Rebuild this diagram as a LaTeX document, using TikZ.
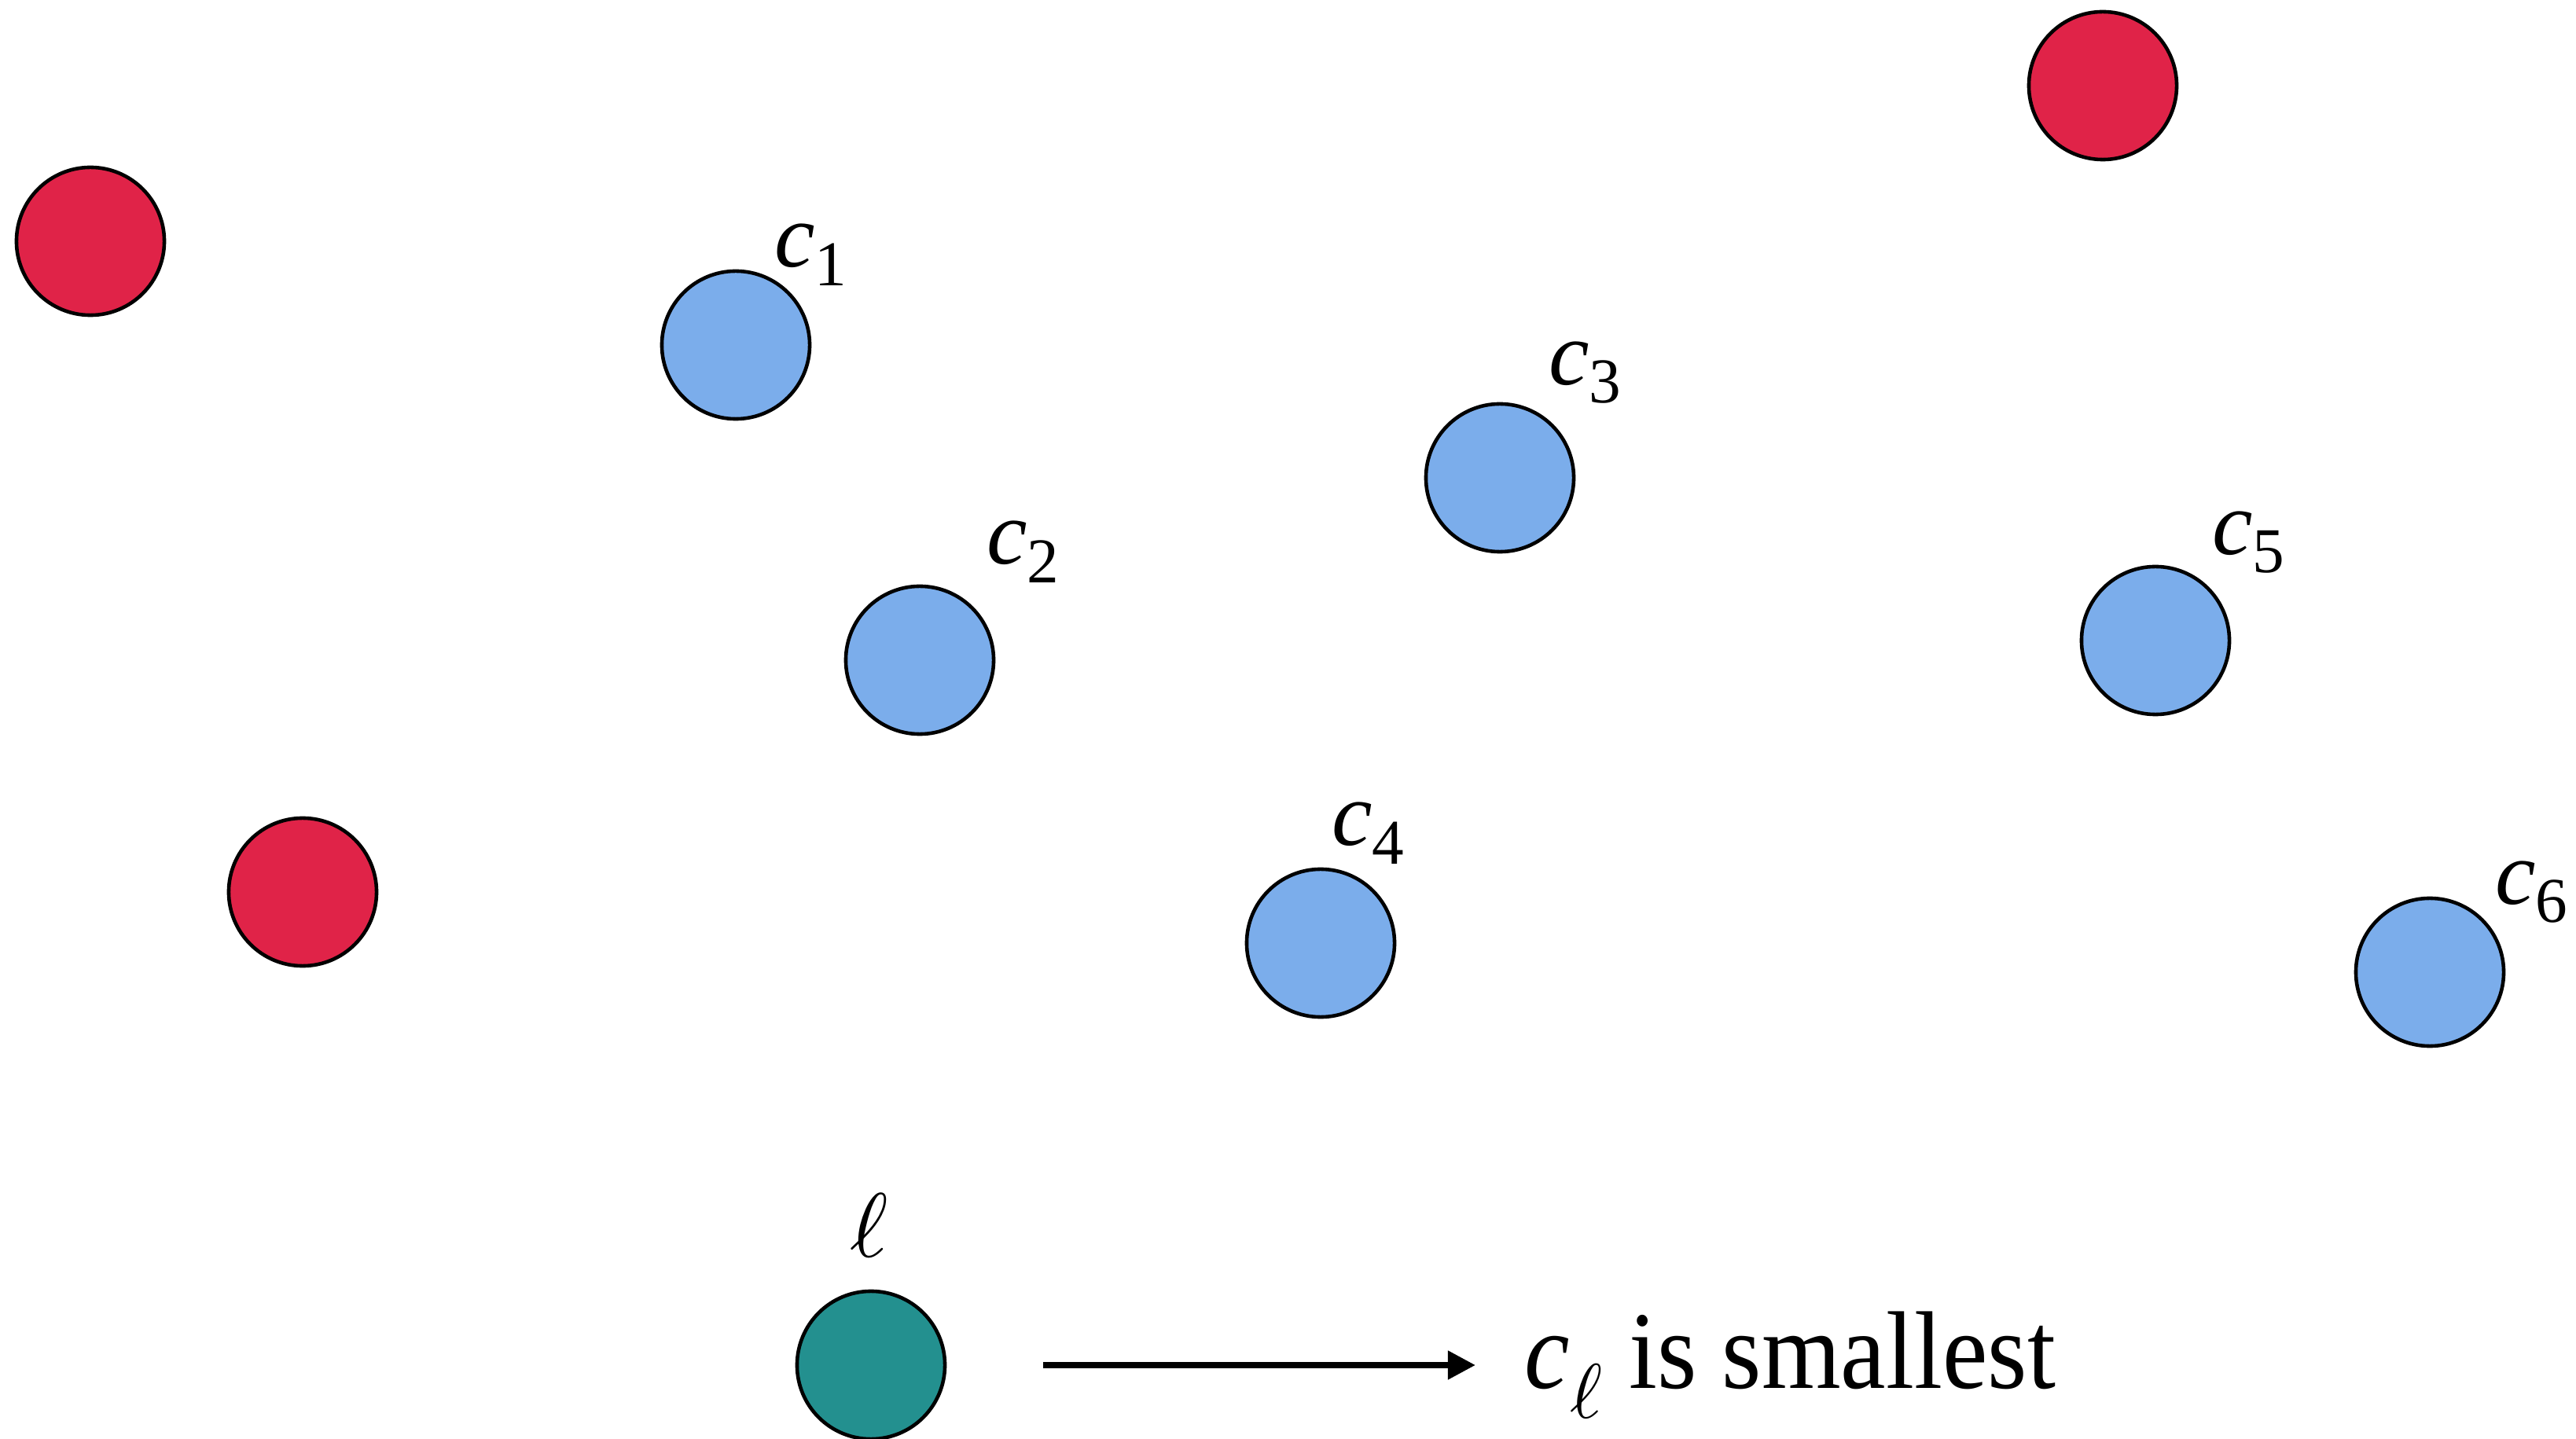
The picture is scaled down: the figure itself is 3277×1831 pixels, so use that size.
\documentclass[tikz,border=0pt]{standalone}
\usepackage{fontspec}
\setmainfont{Liberation Serif}
\newfontfamily\narrowserif[FakeStretch=0.92]{Liberation Serif}
\DeclareFontShape{OML}{cmm}{m}{it}{<->cmmi10}{}
\usepackage{tikz}
\usetikzlibrary{arrows.meta, positioning}
\newcommand{\cvar}[1]{\textit{c}\textsubscript{#1}}
\definecolor{redpt}{RGB}{224,35,72}
\definecolor{bluept}{RGB}{123,173,235}
\definecolor{greenpt}{RGB}{35,144,143}

\begin{document}
\begin{tikzpicture}[
        x=0.01cm, y=-0.01cm,
        pt/.style={circle, draw, line width=1.3pt, minimum size=1.88cm, inner sep=0pt},
        lbl/.style={inner sep=0pt, font=\fontsize{33}{40}\selectfont},
        arrow/.style={-{Triangle[length=3.5mm, width=3.5mm]}, line width=2.2pt}
    ]
        \useasboundingbox (0,0) rectangle (3277,1831);

        \node[pt, fill=redpt] (r1) at (115,307) {};
        \node[pt, fill=redpt] (r2) at (385,1135) {};
        \node[pt, fill=redpt] (r3) at (2675,109) {};

        \node[pt, fill=bluept] (c1) at (936,439) {};
        \node[pt, fill=bluept] (c2) at (1170,840) {};
        \node[pt, fill=bluept] (c3) at (1908,608) {};
        \node[pt, fill=bluept] (c4) at (1680,1200) {};
        \node[pt, fill=bluept] (c5) at (2742,815) {};
        \node[pt, fill=bluept] (c6) at (3091,1237) {};

        \node[lbl] (l1) at (1032,324) {\cvar{1}};
        \node[lbl] (l2) at (1302,702) {\cvar{2}};
        \node[lbl] (l3) at (2017,474) {\cvar{3}};
        \node[lbl] (l4) at (1741,1060) {\cvar{4}};
        \node[lbl] (l5) at (2861,690) {\cvar{5}};
        \node[lbl] (l6) at (3221,1135) {\cvar{6}};

        \node[pt, fill=greenpt] (g) at (1108,1737) {};
        \node[lbl] (gl) at (1106,1559) {$\ell$};
        \node[inner sep=0pt, anchor=base west, font=\narrowserif\fontsize{40}{48}\selectfont] (res) at (1939,1766) {\cvar{$\ell$} is smallest};

        \draw[arrow, shorten <=1.23cm, shorten >=0.62cm] (g.east) -- (g.east -| res.west);
    \end{tikzpicture}
\end{document}
